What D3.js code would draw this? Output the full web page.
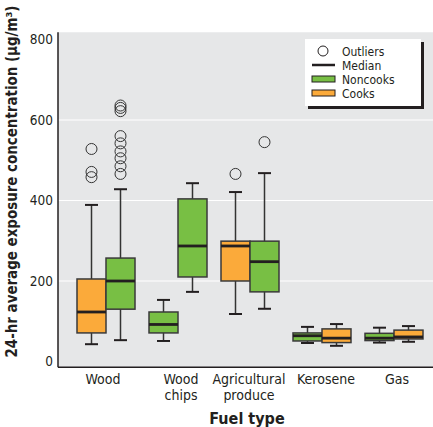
<!DOCTYPE html>
<html>
<head>
<meta charset="utf-8">
<script src="https://cdn.jsdelivr.net/npm/d3@7"></script>
<style>
  body { margin: 0; background: #fff; }
  text { font-family: "Liberation Sans Narrow", "DejaVu Sans Condensed", "Arial Narrow", sans-serif; fill: #231f20; }
</style>
</head>
<body>
<div id="chart"></div>
<script>
var categories = ["Wood", "Wood chips", "Agricultural produce", "Kerosene", "Gas"];
var catLines = [["Wood"], ["Wood", "chips"], ["Agricultural", "produce"], ["Kerosene"], ["Gas"]];
var yTicks = [0, 200, 400, 600, 800];
var gridTicks = [200, 400, 600];

// one entry per box, in drawing order (left, right inside each category)
var boxCategory = ["Wood", "Wood", "Wood chips", "Wood chips", "Agricultural produce", "Agricultural produce", "Kerosene", "Kerosene", "Gas", "Gas"];
var boxSeries   = ["Cooks", "Noncooks", "Noncooks", "Noncooks", "Cooks", "Noncooks", "Noncooks", "Cooks", "Noncooks", "Cooks"];
var boxSide     = [0, 1, 0, 1, 0, 1, 0, 1, 0, 1];
var whiskerLow  = [43, 53, 51, 173, 118, 131, 46, 39, 47, 49];
var q1          = [71, 130, 71, 210, 200, 173, 51, 47, 52, 56];
var median      = [123, 200, 92, 287, 287, 248, 64, 58, 58, 61];
var q3          = [205, 257, 123, 404, 299, 299, 71, 81, 70, 78];
var whiskerHigh = [389, 428, 153, 443, 421, 468, 86, 93, 84, 88];
var outliers    = [[528, 471, 458], [636, 630, 622, 560, 542, 522, 505, 485, 466], [], [], [466], [545], [], [], [], []];

var legendLabels = ["Outliers", "Median", "Noncooks", "Cooks"];
var color = {"Cooks": "#fbaa3a", "Noncooks": "#78bf44"};

var width = 433, height = 427;

var svg = d3.select("#chart")
            .append("svg")
            .attr("width", width)
            .attr("height", height);

var y = d3.scaleLinear()
        .domain([0, 800])
        .range([361.5, 39.5]);

var x = d3.scaleBand()
        .domain(categories)
        .range([70, 430]);

var boxW = 29;
var plotLeft = 58, plotRight = 433, plotTop = y(818), plotBottom = y(-14);

// background + grid
svg.append("rect")
    .attr("x", plotLeft)
    .attr("y", plotTop)
    .attr("width", plotRight - plotLeft)
    .attr("height", plotBottom - plotTop)
    .attr("fill", "#e6e7e8");

svg.selectAll(".grid")
    .data(gridTicks)
    .join("line")
    .attr("x1", plotLeft)
    .attr("x2", plotRight)
    .attr("y1", d => y(d))
    .attr("y2", d => y(d))
    .attr("stroke", "#fff")
    .attr("stroke-width", 1.2);

// axes
var yAxis = svg.append("g")
    .attr("transform", "translate(" + plotLeft + ",0)")
    .call(d3.axisLeft(y).tickValues(yTicks).tickSize(0).tickPadding(5));
yAxis.select(".domain").remove();
yAxis.selectAll("text")
    .style("font-size", "13.5px")
    .style("font-family", null)
    .attr("fill", "#231f20");
yAxis.attr("font-family", null).attr("font-size", null);

svg.append("line")
    .attr("x1", plotLeft).attr("x2", plotLeft)
    .attr("y1", plotTop).attr("y2", plotBottom)
    .attr("stroke", "#231f20").attr("stroke-width", 1.5);
svg.append("line")
    .attr("x1", plotLeft).attr("x2", plotRight)
    .attr("y1", plotBottom).attr("y2", plotBottom)
    .attr("stroke", "#231f20").attr("stroke-width", 1.5);

var labelCenter = [103, 181, 249, 326, 397];
svg.selectAll(".xlab")
    .data(categories)
    .join("text")
    .attr("text-anchor", "middle")
    .style("font-size", "14px")
    .each(function(d, i) {
        d3.select(this).selectAll("tspan")
            .data(catLines[i])
            .join("tspan")
            .attr("x", labelCenter[i])
            .attr("y", (t, j) => 384 + j * 16)
            .text(t => t);
    });

svg.append("text")
    .attr("x", 247)
    .attr("y", 424)
    .attr("text-anchor", "middle")
    .style("font-size", "16px")
    .style("font-weight", "bold")
    .text("Fuel type");

svg.append("text")
    .attr("transform", "translate(16.5," + 181.5 + ") rotate(-90)")
    .attr("text-anchor", "middle")
    .attr("textLength", 352)
    .attr("lengthAdjust", "spacingAndGlyphs")
    .style("font-size", "15px")
    .style("font-weight", "bold")
    .text("24-hr average exposure concentration (\u03bcg/m\u00b3)");

// boxes
var idx = d3.range(boxCategory.length);
var bx = i => x(boxCategory[i]) + x.bandwidth() / 2 - boxW + boxSide[i] * boxW;
var cx = i => bx(i) + boxW / 2;

var g = svg.append("g");

g.selectAll(".whisker")
    .data(idx)
    .join("line")
    .attr("x1", cx).attr("x2", cx)
    .attr("y1", i => y(whiskerLow[i]))
    .attr("y2", i => y(whiskerHigh[i]))
    .attr("stroke", "#333")
    .attr("stroke-width", 1.5);

g.selectAll(".capLow")
    .data(idx)
    .join("line")
    .attr("x1", i => cx(i) - 6.5).attr("x2", i => cx(i) + 6.5)
    .attr("y1", i => y(whiskerLow[i])).attr("y2", i => y(whiskerLow[i]))
    .attr("stroke", "#231f20")
    .attr("stroke-width", 2);

g.selectAll(".capHigh")
    .data(idx)
    .join("line")
    .attr("x1", i => cx(i) - 6.5).attr("x2", i => cx(i) + 6.5)
    .attr("y1", i => y(whiskerHigh[i])).attr("y2", i => y(whiskerHigh[i]))
    .attr("stroke", "#231f20")
    .attr("stroke-width", 2);

g.selectAll(".box")
    .data(idx)
    .join("rect")
    .attr("x", bx)
    .attr("y", i => y(q3[i]))
    .attr("width", boxW)
    .attr("height", i => y(q1[i]) - y(q3[i]))
    .attr("fill", i => color[boxSeries[i]])
    .attr("stroke", "#3a3a3a")
    .attr("stroke-width", 1.5);

g.selectAll(".median")
    .data(idx)
    .join("line")
    .attr("x1", bx).attr("x2", i => bx(i) + boxW)
    .attr("y1", i => y(median[i])).attr("y2", i => y(median[i]))
    .attr("stroke", "#231f20")
    .attr("stroke-width", 2.8);

var outPts = [];
idx.forEach(i => outliers[i].forEach(v => outPts.push([cx(i), v])));
g.selectAll(".outlier")
    .data(outPts)
    .join("circle")
    .attr("cx", d => d[0])
    .attr("cy", d => y(d[1]))
    .attr("r", 5.5)
    .attr("fill", "none")
    .attr("stroke", "#333")
    .attr("stroke-width", 1);

// legend
var lg = svg.append("g");
lg.append("rect")
    .attr("x", 308).attr("y", 42).attr("width", 116).attr("height", 67)
    .attr("fill", "#231f20");
lg.append("rect")
    .attr("x", 305).attr("y", 39).attr("width", 116).attr("height", 67)
    .attr("fill", "#fff");

var rowY = [51, 65, 79, 93];
lg.append("circle")
    .attr("cx", 323).attr("cy", rowY[0]).attr("r", 5)
    .attr("fill", "none").attr("stroke", "#231f20").attr("stroke-width", 1);
lg.append("line")
    .attr("x1", 312).attr("x2", 335).attr("y1", rowY[1]).attr("y2", rowY[1])
    .attr("stroke", "#231f20").attr("stroke-width", 2.5);
lg.selectAll(".lgbox")
    .data(["Noncooks", "Cooks"])
    .join("rect")
    .attr("x", 312)
    .attr("y", (d, i) => rowY[i + 2] - 3)
    .attr("width", 23)
    .attr("height", 6)
    .attr("fill", d => color[d])
    .attr("stroke", "#231f20")
    .attr("stroke-width", 1);
lg.selectAll(".lgtext")
    .data(legendLabels)
    .join("text")
    .attr("x", 342)
    .attr("y", (d, i) => rowY[i] + 4.5)
    .style("font-size", "12px")
    .text(d => d);
</script>
</body>
</html>
